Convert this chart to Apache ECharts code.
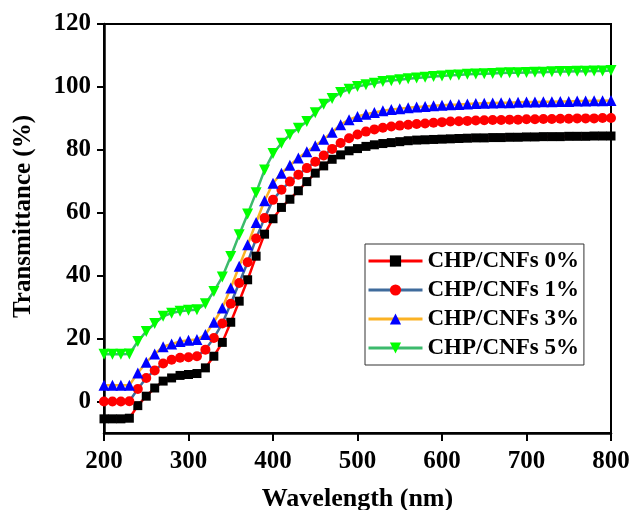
<!DOCTYPE html>
<html>
<head>
<meta charset="utf-8">
<title>Transmittance of CHP/CNFs films</title>
<script src="https://cdn.jsdelivr.net/npm/echarts@6/dist/echarts.min.js"></script>
<style>
  html, body { margin: 0; padding: 0; background: #ffffff; }
  #chart { width: 633px; height: 510px; }
</style>
</head>
<body>
<div id="chart"></div>
<script>
// Wavelength grid (nm), one reading every 10 nm
const wavelengths = [];
for (let w = 200; w <= 800; w += 10) wavelengths.push(w);

// Transmittance (%) for each CNF loading
const cnf0 = [-5.5, -5.5, -5.5, -5.3, -1.3, 1.7, 4.3, 6.5, 7.5, 8.3,
  8.6, 8.9, 10.7, 14.4, 18.8, 25.2, 31.9, 38.7, 46.2, 53.2,
  58.1, 61.7, 64.3, 67.0, 69.9, 72.6, 74.9, 77.0, 78.4, 79.7,
  80.4, 81.1, 81.6, 82.0, 82.3, 82.6, 82.9, 83.1, 83.2, 83.3,
  83.4, 83.5, 83.6, 83.7, 83.8, 83.8, 83.9, 83.9, 84.0, 84.0,
  84.1, 84.1, 84.2, 84.2, 84.2, 84.3, 84.3, 84.3, 84.4, 84.4, 84.4];
const cnf1 = [0.0, 0.0, 0.0, 0.1, 4.0, 7.5, 9.9, 12.1, 13.3, 13.9,
  14.1, 14.4, 16.5, 20.2, 24.8, 31.1, 37.7, 44.3, 51.8, 58.3,
  64.1, 67.3, 69.9, 72.1, 74.2, 76.2, 78.2, 80.3, 82.2, 83.7,
  84.9, 85.8, 86.5, 87.0, 87.4, 87.7, 88.0, 88.2, 88.4, 88.6,
  88.8, 89.0, 89.1, 89.2, 89.3, 89.4, 89.5, 89.5, 89.6, 89.6,
  89.7, 89.7, 89.8, 89.8, 89.9, 89.9, 90.0, 90.0, 90.0, 90.1, 90.1];
const cnf3 = [5.2, 5.2, 5.2, 5.2, 9.1, 12.5, 15.1, 17.4, 18.3, 19.1,
  19.5, 19.7, 21.3, 25.2, 29.7, 36.1, 43.0, 49.8, 56.9, 63.8,
  69.4, 72.6, 75.1, 77.4, 79.4, 81.3, 83.4, 85.6, 88.0, 89.6,
  90.6, 91.3, 91.9, 92.4, 92.8, 93.1, 93.4, 93.6, 93.8, 94.0,
  94.2, 94.3, 94.4, 94.6, 94.7, 94.8, 94.9, 95.0, 95.0, 95.1,
  95.2, 95.2, 95.3, 95.3, 95.4, 95.4, 95.5, 95.5, 95.6, 95.6, 95.7];
const cnf5 = [15.0, 15.0, 15.0, 15.1, 19.1, 22.3, 24.8, 27.1, 28.1, 28.7,
  29.0, 29.2, 31.1, 35.0, 39.6, 46.1, 53.0, 59.6, 66.4, 73.6,
  78.8, 82.1, 84.8, 86.9, 89.0, 91.8, 94.5, 96.3, 98.2, 99.3,
  100.1, 100.7, 101.2, 101.7, 102.0, 102.3, 102.6, 102.8, 103.1, 103.3,
  103.5, 103.7, 103.8, 104.0, 104.1, 104.2, 104.3, 104.4, 104.5, 104.5,
  104.6, 104.7, 104.7, 104.8, 104.9, 104.9, 105.0, 105.0, 105.1, 105.1, 105.2];

const seriesNames = ['CHP/CNFs 0%', 'CHP/CNFs 1%', 'CHP/CNFs 3%', 'CHP/CNFs 5%'];
const yTicks = [0, 20, 40, 60, 80, 100, 120];

const FONT = '"Times New Roman", "Liberation Serif", serif';

function pairs(values) {
  return wavelengths.map((w, i) => [w, values[i]]);
}

function lineSeries(name, values, lineColor, symbol, symbolColor, size, rotate) {
  return {
    name: name,
    type: 'line',
    data: pairs(values),
    symbol: symbol,
    symbolSize: size,
    symbolRotate: rotate || 0,
    showAllSymbol: true,
    lineStyle: { color: lineColor, width: 2.5 },
    itemStyle: { color: symbolColor, borderWidth: 0 },
    emphasis: { disabled: true },
    animation: false
  };
}

const chart = echarts.init(document.getElementById('chart'), null, { renderer: 'canvas' });

chart.setOption({
  backgroundColor: '#ffffff',
  animation: false,
  grid: {
    left: 104, right: 22, top: 24, bottom: 77,
    outerBoundsMode: 'none',
    containLabel: false,
    show: true, borderColor: '#000000', borderWidth: 2, backgroundColor: 'transparent'
  },
  legend: {
    orient: 'vertical',
    left: 365,
    top: 244,
    padding: [5, 5, 5, 2],
    itemGap: 5,
    itemWidth: 54,
    itemHeight: 14,
    borderColor: '#333333',
    borderWidth: 1,
    backgroundColor: '#ffffff',
    data: seriesNames,
    lineStyle: { width: 3 },
    textStyle: {
      fontFamily: FONT, fontWeight: 'bold', fontSize: 23, color: '#000000', lineHeight: 24
    }
  },
  xAxis: {
    type: 'value',
    min: 200, max: 800, interval: 100,
    name: 'Wavelength (nm)',
    nameLocation: 'middle',
    nameGap: 53,
    nameTextStyle: { fontFamily: FONT, fontWeight: 'bold', fontSize: 26, color: '#000000' },
    axisLine: { show: true, onZero: false, lineStyle: { color: '#000000', width: 2.5 } },
    axisTick: { show: true, inside: false, length: 8, lineStyle: { color: '#000000', width: 2 } },
    axisLabel: { fontFamily: FONT, fontWeight: 'bold', fontSize: 25, color: '#000000', margin: 16 },
    splitLine: { show: false }
  },
  yAxis: {
    type: 'value',
    min: -10, max: 120,
    name: 'Transmittance (%)',
    nameLocation: 'middle',
    nameGap: 68,
    nameTextStyle: {
      fontFamily: FONT, fontWeight: 'bold', fontSize: 25, color: '#000000',
      padding: [0, 0, 0, 24]
    },
    axisLine: { show: true, onZero: false, lineStyle: { color: '#000000', width: 2.5 } },
    axisTick: { show: true, length: 7, customValues: yTicks, lineStyle: { color: '#000000', width: 2 } },
    axisLabel: {
      fontFamily: FONT, fontWeight: 'bold', fontSize: 25, color: '#000000', margin: 13,
      customValues: yTicks
    },
    splitLine: { show: false }
  },
  series: [
    lineSeries(seriesNames[0], cnf0, '#ff0000', 'rect', '#000000', 9),
    lineSeries(seriesNames[1], cnf1, '#3f6b9c', 'circle', '#ff0000', 10),
    lineSeries(seriesNames[2], cnf3, '#fbb224', 'triangle', '#0000ff', 11),
    lineSeries(seriesNames[3], cnf5, '#3cba6c', 'triangle', '#00ff00', 11, 180)
  ]
});
</script>
</body>
</html>
